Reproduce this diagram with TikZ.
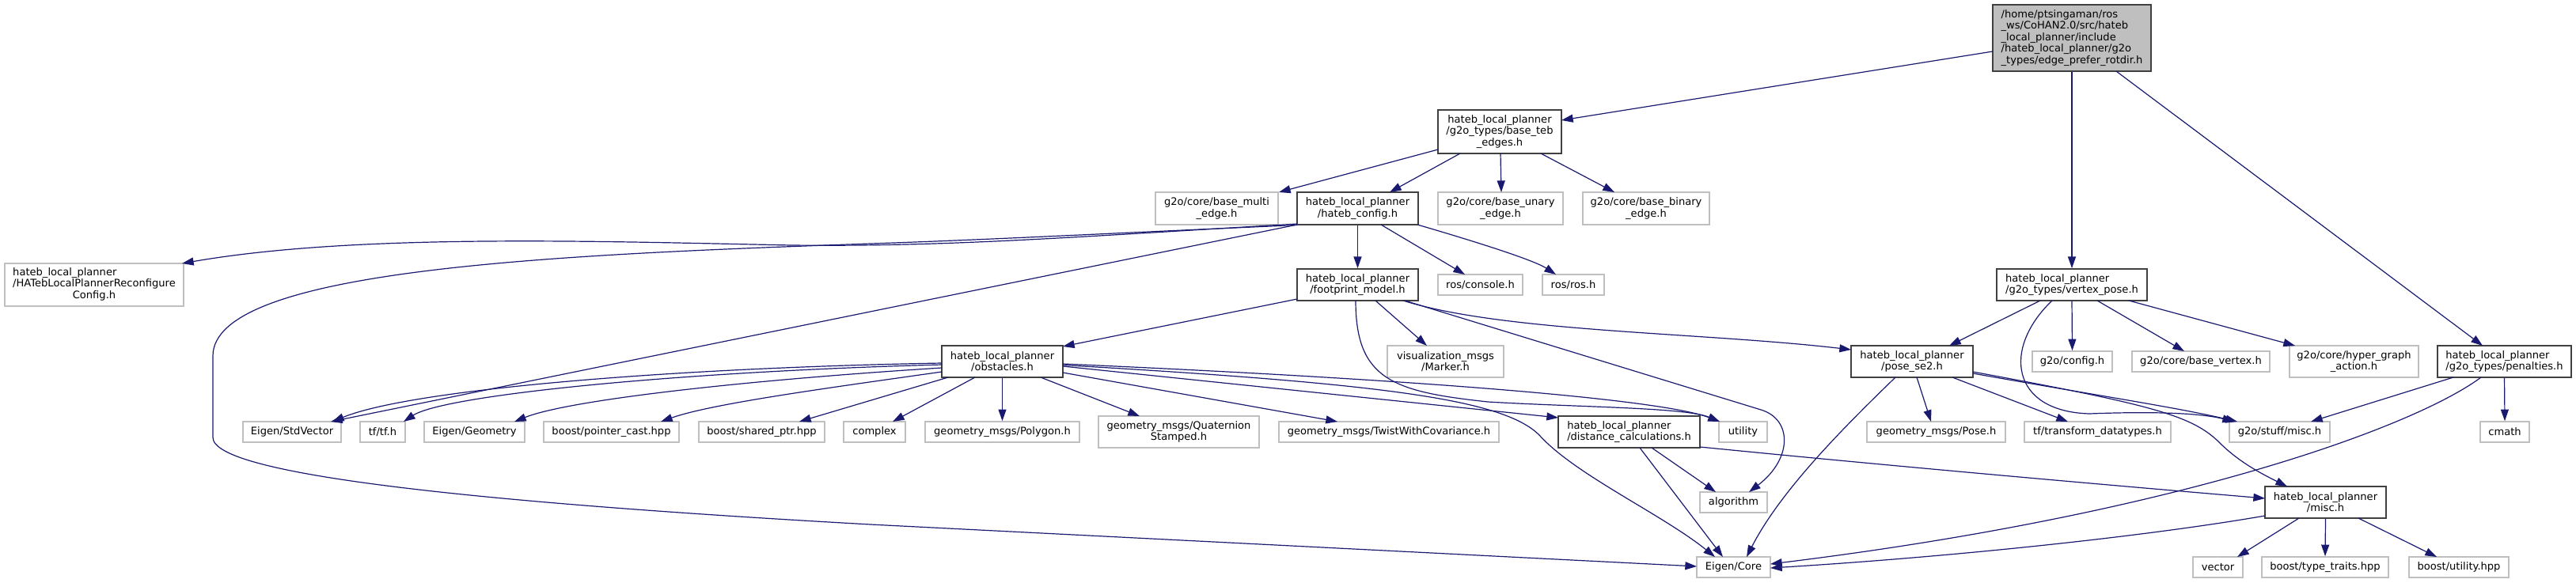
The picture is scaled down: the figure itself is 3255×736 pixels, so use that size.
\documentclass[tikz,border=0pt]{standalone}
\usepackage{fontspec}
\setmainfont{DejaVu Sans}
\usetikzlibrary{arrows.meta,calc}
\definecolor{edgec}{HTML}{191970}
\definecolor{leafc}{HTML}{BFBFBF}
\definecolor{nodec}{HTML}{404040}
\definecolor{topfill}{HTML}{BFBFBF}
\begin{document}
\begin{tikzpicture}[x=0.75pt,y=-0.75pt,
  box/.style={draw=nodec, line width=1.3pt, fill=white, inner sep=0pt, font=\fontsize{9.8}{10.9}\selectfont, align=center},
  leaf/.style={draw=leafc, line width=1.2pt, fill=white, inner sep=0pt, font=\fontsize{9.8}{10.9}\selectfont, align=center},
  topbox/.style={box, fill=topfill},
  sz/.style 2 args={minimum width=#1*0.75pt, minimum height=#2*0.75pt},
  dep/.style={draw=edgec, line width=0.9pt, -{Triangle[length=11pt,width=7.5pt]}}
]
\useasboundingbox (0,0) rectangle (3255,736);
% nodes
\node[topbox, sz={200}{84}, align=left] (top) at (2618,48) {/home/ptsingaman/ros\\\_ws/CoHAN2.0/src/hateb\\\_local\_planner/include\\/hateb\_local\_planner/g2o\\\_types/edge\_prefer\_rotdir.h};
\node[box, sz={156}{55}] (bte) at (1895,166.5) {hateb\_local\_planner\\/g2o\_types/base\_teb\\\_edges.h};
\node[leaf, sz={155}{41}] (bme) at (1537.5,263.5) {g2o/core/base\_multi\\\_edge.h};
\node[box, sz={153}{41}] (cfg) at (1715.5,263.5) {hateb\_local\_planner\\/hateb\_config.h};
\node[leaf, sz={158}{41}] (bue) at (1896,263.5) {g2o/core/base\_unary\\\_edge.h};
\node[leaf, sz={160}{41}] (bbe) at (2080,263.5) {g2o/core/base\_binary\\\_edge.h};
\node[leaf, sz={226}{54}] (hrc) at (119,360) {\begin{tabular}{@{}l@{}}hateb\_local\_planner\\/HATebLocalPlannerReconfigure\\\multicolumn{1}{@{}c@{}}{Config.h}\end{tabular}};
\node[leaf, sz={107}{26}] (rcon) at (1870.5,360) {ros/console.h};
\node[leaf, sz={78}{26}] (rros) at (1988,360) {ros/ros.h};
\node[box, sz={153}{40}] (fpm) at (1715.5,360) {hateb\_local\_planner\\/footprint\_model.h};
\node[box, sz={190}{40}, align=left] (vtx) at (2618,360) {hateb\_local\_planner\\/g2o\_types/vertex\_pose.h};
\node[box, sz={153}{40}] (obs) at (1266.5,457) {hateb\_local\_planner\\/obstacles.h};
\node[leaf, sz={147}{40}] (mrk) at (1826.5,457) {visualization\_msgs\\/Marker.h};
\node[box, sz={154}{40}] (pse) at (2416,457) {hateb\_local\_planner\\/pose\_se2.h};
\node[leaf, sz={101}{26}] (gcfg) at (2618.5,457) {g2o/config.h};
\node[leaf, sz={174}{26}] (bvx) at (2781,457) {g2o/core/base\_vertex.h};
\node[leaf, sz={163}{40}] (hga) at (2974.5,457) {g2o/core/hyper\_graph\\\_action.h};
\node[box, sz={169}{40}, align=left] (pen) at (3164.5,457) {hateb\_local\_planner\\/g2o\_types/penalties.h};
\node[leaf, sz={124}{26}] (stdv) at (369,546) {Eigen/StdVector};
\node[leaf, sz={57}{26}] (tfh) at (483.5,546) {tf/tf.h};
\node[leaf, sz={127}{26}] (egeo) at (599.5,546) {Eigen/Geometry};
\node[leaf, sz={171}{26}] (bpc) at (772.5,546) {boost/pointer\_cast.hpp};
\node[leaf, sz={159}{26}] (bsp) at (962.5,546) {boost/shared\_ptr.hpp};
\node[leaf, sz={78}{26}] (cpx) at (1105,546) {complex};
\node[leaf, sz={195}{26}] (poly) at (1266.5,546) {geometry\_msgs/Polygon.h};
\node[leaf, sz={203}{40}] (quat) at (1489.5,546) {geometry\_msgs/Quaternion\\Stamped.h};
\node[leaf, sz={278}{26}] (twist) at (1755,546) {geometry\_msgs/TwistWithCovariance.h};
\node[box, sz={179}{40}, align=left] (dist) at (2058.5,546) {hateb\_local\_planner\\/distance\_calculations.h};
\node[leaf, sz={61}{26}] (util) at (2202.5,546) {utility};
\node[leaf, sz={175}{26}] (pose) at (2446.5,546) {geometry\_msgs/Pose.h};
\node[leaf, sz={185}{26}] (tfdt) at (2650.5,546) {tf/transform\_datatypes.h};
\node[leaf, sz={127}{26}] (g2m) at (2880.5,546) {g2o/stuff/misc.h};
\node[leaf, sz={62}{26}] (cmath) at (3165,546) {cmath};
\node[leaf, sz={85}{26}] (algo) at (2190.5,635) {algorithm};
\node[box, sz={153}{40}] (misc) at (2938.5,635) {hateb\_local\_planner\\/misc.h};
\node[leaf, sz={93}{26}] (eig) at (2190.5,717) {Eigen/Core};
\node[leaf, sz={63}{26}] (vec) at (2802.5,717) {vector};
\node[leaf, sz={160}{26}] (btt) at (2938,717) {boost/type\_traits.hpp};
\node[leaf, sz={126}{26}] (but) at (3107,717) {boost/utility.hpp};
% edges from top
\draw[dep] ($(top)+(-100,17)$) -- ($(bte)+(78,-14.5)$);
\draw[dep] (top.south) -- (vtx.north);
\draw[dep] ($(top)+(56,42)$) -- ($(pen)+(-27.5,-20)$);
% base_teb_edges
\draw[dep] ($(bte)+(-78,22.5)$) -- ($(bme)+(78.5,-20.5)$);
\draw[dep] ($(bte)+(-50,27.5)$) -- ($(cfg)+(40.5,-20.5)$);
\draw[dep] ($(bte)+(1,27.5)$) -- ($(bue)+(1,-20.5)$);
\draw[dep] ($(bte)+(52,27.5)$) -- ($(bbe)+(-40,-20.5)$);
% hateb_config
\draw[dep] ($(cfg)+(-76.5,19.5)$) .. controls (1350,300) and (1200,312) .. (1000,310) .. controls (750,305) and (450,295) .. ($(hrc)+(111,-27)$);
\draw[dep] ($(cfg)+(-76.5,20.5)$) -- ($(stdv)+(49,-13)$);
\draw[dep] ($(cfg)+(-76.5,21)$) .. controls (1400,295) and (1250,303) .. (1100,308) .. controls (700,322) and (269,340) .. (269,450) -- (269,553) .. controls (269,600) and (600,635) .. (1100,663) -- ($(eig)+(-46.5,-1)$);
\draw[dep] (cfg.south) -- (fpm.north);
\draw[dep] ($(cfg)+(29.5,20.5)$) -- ($(rcon)+(-19.5,-13)$);
\draw[dep] ($(cfg)+(75.5,20.5)$) .. controls (1880,310) and (1940,330) .. ($(rros)+(-22,-13)$);
% footprint_model
\draw[dep] ($(fpm)+(-76.5,18)$) -- ($(obs)+(76.5,-19)$);
\draw[dep] ($(fpm)+(22.5,20)$) -- ($(mrk)+(-23.5,-20)$);
\draw[dep] ($(fpm)+(57.5,20)$) .. controls (1900,420) and (2150,420) .. ($(pse)+(-77,-15)$);
\draw[dep] ($(fpm)+(59.5,20)$) -- (2225,518) .. controls (2265,530) and (2265,580) .. ($(algo)+(19.5,-13)$);
\draw[dep] ($(fpm)+(-2.5,20)$) .. controls (1713,480) and (1760,495) .. (1880,508) .. controls (2000,515) and (2130,515) .. ($(util)+(-29.5,-13)$);
% obstacles
\draw[dep] ($(obs)+(-76.5,2)$) .. controls (850,465) and (520,492) .. ($(stdv)+(51,-13)$);
\draw[dep] ($(obs)+(-76.5,4)$) .. controls (850,470) and (560,500) .. ($(tfh)+(26.5,-13)$);
\draw[dep] ($(obs)+(-76.5,8)$) .. controls (950,480) and (720,505) .. ($(egeo)+(50.5,-13)$);
\draw[dep] ($(obs)+(-76.5,13)$) .. controls (1050,490) and (900,510) .. ($(bpc)+(62.5,-13)$);
\draw[dep] ($(obs)+(-68.5,20)$) -- ($(bsp)+(47.5,-13)$);
\draw[dep] ($(obs)+(-34.5,20)$) -- ($(cpx)+(23,-13)$);
\draw[dep] (obs.south) -- (poly.north);
\draw[dep] ($(obs)+(48.5,20)$) -- ($(quat)+(-49.5,-20)$);
\draw[dep] ($(obs)+(76.5,14)$) -- ($(twist)+(-65,-13)$);
\draw[dep] ($(obs)+(76.5,6)$) -- ($(dist)+(-89.5,-18)$);
\draw[dep] ($(obs)+(76.5,3)$) .. controls (1800,480) and (2100,505) .. ($(util)+(-29.5,-13)$);
\draw[dep] ($(obs)+(76.5,4.5)$) .. controls (1750,485) and (1900,505) .. (1945,550) .. controls (1990,600) and (2100,650) .. ($(eig)+(-23.5,-13)$);
% distance_calculations
\draw[dep] ($(dist)+(28.5,20)$) -- ($(algo)+(-22.5,-13)$);
\draw[dep] ($(dist)+(13.5,20)$) -- ($(eig)+(-13.5,-13)$);
\draw[dep] ($(dist)+(89.5,19)$) .. controls (2400,590) and (2650,612) .. ($(misc)+(-76.5,-5)$);
% vertex_pose
\draw[dep] ($(vtx)+(-40,20)$) -- ($(pse)+(47,-20)$);
\draw[dep] (vtx.south) -- (gcfg.north);
\draw[dep] ($(vtx)+(32,20)$) -- ($(bvx)+(-21,-13)$);
\draw[dep] ($(vtx)+(72,20)$) -- ($(hga)+(-74.5,-20)$);
\draw[dep] ($(vtx)+(-25,20)$) .. controls (2530,440) and (2540,520) .. (2640,523) .. controls (2720,520) and (2780,522) .. ($(g2m)+(-57.5,-13)$);
% pose_se2
\draw[dep] ($(pse)+(-21,20)$) .. controls (2330,540) and (2250,620) .. ($(eig)+(16.5,-13)$);
\draw[dep] ($(pse)+(6,20)$) -- ($(pose)+(-6.5,-13)$);
\draw[dep] ($(pse)+(51,20)$) -- ($(tfdt)+(-37.5,-13)$);
\draw[dep] ($(pse)+(77,15)$) .. controls (2650,500) and (2750,515) .. ($(g2m)+(-53.5,-13)$);
\draw[dep] ($(pse)+(77,13)$) .. controls (2720,512) and (2770,525) .. (2805,560) .. controls (2830,585) and (2860,600) .. ($(misc)+(-48.5,-20)$);
% penalties
\draw[dep] ($(pen)+(-64.5,20)$) -- ($(g2m)+(39.5,-13)$);
\draw[dep] ($(pen)+(-29.5,20)$) .. controls (3050,540) and (2750,650) .. ($(eig)+(46.5,-4)$);
\draw[dep] (pen.south) -- (cmath.north);
% misc
\draw[dep] ($(misc)+(-76.5,17)$) .. controls (2700,680) and (2450,705) .. ($(eig)+(46.5,1)$);
\draw[dep] ($(misc)+(-33.5,20)$) -- ($(vec)+(24.5,-13)$);
\draw[dep] (misc.south) -- (btt.north);
\draw[dep] ($(misc)+(41.5,20)$) -- ($(but)+(-28,-13)$);
\end{tikzpicture}
\end{document}
